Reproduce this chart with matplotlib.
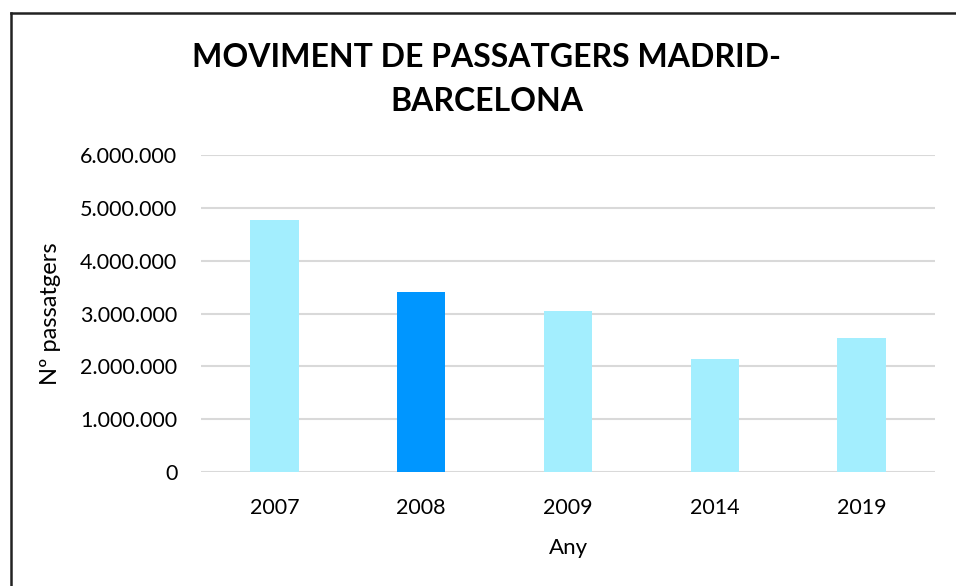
import matplotlib
matplotlib.use("Agg")
import matplotlib.pyplot as plt
from matplotlib.lines import Line2D
from matplotlib.ticker import FuncFormatter, MultipleLocator

years = ["2007", "2008", "2009", "2014", "2019"]
passengers = [4770000, 3410000, 3050000, 2140000, 2540000]
highlight = "2008"

LIGHT = "#A3EEFE"
DARK = "#0096FF"

plt.rcParams["font.family"] = ["Lato", "DejaVu Sans"]

fig = plt.figure(figsize=(9.56, 5.86), dpi=100)
ax = fig.add_axes([0.2103, 0.1945, 0.978 - 0.2103, 0.7355 - 0.1945])

colors = [DARK if y == highlight else LIGHT for y in years]
ax.bar(years, passengers, width=0.33, color=colors, zorder=3)

ax.set_ylim(0, 6000000)
ax.set_xlim(-0.5, len(years) - 0.5)
ax.yaxis.set_major_locator(MultipleLocator(1000000))
ax.yaxis.set_major_formatter(FuncFormatter(lambda v, p: f"{int(v):,}".replace(",", ".")))
ax.grid(axis="y", color="#D9D9D9", linewidth=1.5, zorder=0)
for s in ax.spines.values():
    s.set_visible(False)
ax.tick_params(axis="both", length=0, labelsize=15.5, colors="#000000")
ax.tick_params(axis="y", pad=17)
ax.tick_params(axis="x", pad=19)

ax.set_xlabel("Any", fontsize=16, labelpad=14)
ax.set_ylabel("Nº passatgers", fontsize=17, labelpad=14)

fig.text(0.509, 0.864, "MOVIMENT DE PASSATGERS MADRID-\nBARCELONA", ha="center", va="center",
         fontsize=23, fontweight="bold", linespacing=1.6)

# chart frame (only top and left edges visible)
fig.add_artist(Line2D([0.011, 1.0], [0.978, 0.978], color="#222222", linewidth=1.8,
                      transform=fig.transFigure))
fig.add_artist(Line2D([0.011, 0.011], [0.0, 0.978], color="#222222", linewidth=1.8,
                      transform=fig.transFigure))

fig.savefig("out.png", dpi=100)
